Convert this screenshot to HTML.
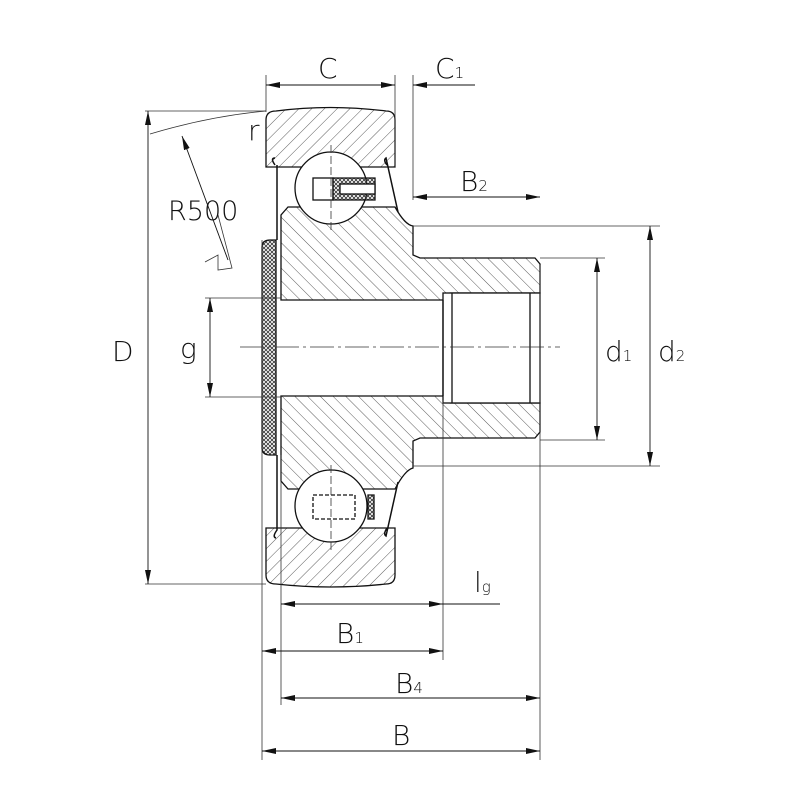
<!DOCTYPE html>
<html><head><style>body{margin:0;background:#fff}svg{display:block}text{font-family:"DejaVu Sans","Liberation Sans",sans-serif;fill:#111;font-weight:300}</style></head>
<body>
<svg width="800" height="800" viewBox="0 0 800 800" xmlns="http://www.w3.org/2000/svg">
<defs>
<pattern id="h1" width="9" height="9" patternUnits="userSpaceOnUse" patternTransform="rotate(45)"><line x1="0" y1="0" x2="0" y2="9" stroke="#333" stroke-width="0.8"/></pattern>
<pattern id="h2" width="9" height="9" patternUnits="userSpaceOnUse" patternTransform="rotate(-45)"><line x1="0" y1="0" x2="0" y2="9" stroke="#333" stroke-width="0.8"/></pattern>
<pattern id="x" width="4" height="4" patternUnits="userSpaceOnUse"><path d="M0,0L4,4M4,0L0,4" stroke="#333" stroke-width="0.8"/></pattern>
<marker id="a" viewBox="0 0 14 6" refX="14" refY="3" markerWidth="14" markerHeight="6" orient="auto-start-reverse" markerUnits="userSpaceOnUse"><path d="M0,0L14,3L0,6Z" fill="#111"/></marker>
</defs>
<g stroke="#111" stroke-width="1.3">
<path d="M266,167V120Q266,111 276,111Q330,104 386,111Q395,111 395,120V167Z" fill="url(#h1)"/>
<path d="M266,528V575Q266,584 276,584Q330,590 386,584Q395,584 395,575V528Z" fill="url(#h1)"/>
<path d="M281,300V215L288,207H395Q405,225 413,226V255L420,258H535L540,264V293H450L443,300Z" fill="url(#h2)"/>
<path d="M281,396V481L288,489H395Q405,470 413,468V441L420,438H535L540,432V403H450L443,396Z" fill="url(#h2)"/>
<rect x="443" y="293" width="97" height="110" fill="#fff"/>
<path d="M443,300V396M452,293V403M530,293V403" fill="none"/>
<circle cx="331" cy="188" r="36" fill="#fff"/>
<circle cx="331" cy="506" r="36" fill="#fff"/>
<rect x="313" y="178" width="20" height="22" fill="#fff"/>
<path d="M333,178H375V200H333Z" fill="url(#x)"/><rect x="340" y="184" width="35" height="10" fill="#fff"/>
<rect x="313" y="495" width="42" height="24" fill="none" stroke-dasharray="4,2"/>
<path d="M368,495H374V519H368Z" fill="url(#x)"/>
<path d="M262,247Q262,240 270,240H276V455H270Q262,455 262,448Z" fill="url(#x)"/>
<path d="M275,165Q270,158 275,158M277,165V240M277,455V530Q272,537 276,538" fill="none" stroke-width="1.5"/>
<path d="M387,165Q383,160 386,158L398,212M398,482L386,536Q383,534 387,528" fill="none" stroke-width="1.5"/>
</g>
<g stroke="#333" stroke-width="0.8" fill="none">
<path d="M262,240V760M266,75V112M395,75V167M413,75V200M281,455V705M443,400V660M540,265V760"/>
<path d="M145,111H266M145,584H266M205,298H281M205,397H281M413,226H660M540,258H605M540,440H605M413,466H660"/>
<path d="M240,347H560" stroke-dasharray="24,4,3,4"/>
<path d="M331,145V230M331,465V550" stroke-dasharray="8,3"/>
<path d="M150,134Q210,116 266,111"/>
<path d="M205,262L218,255L218,270L232,268L218,215"/>
</g>
<g stroke="#111" stroke-width="0.9" fill="none">
<line x1="266" y1="85" x2="395" y2="85" marker-start="url(#a)" marker-end="url(#a)"/>
<line x1="428" y1="85" x2="413" y2="85" marker-end="url(#a)"/><line x1="413" y1="85" x2="475" y2="85"/>
<line x1="413" y1="197" x2="540" y2="197" marker-start="url(#a)" marker-end="url(#a)"/>
<line x1="148" y1="111" x2="148" y2="584" marker-start="url(#a)" marker-end="url(#a)"/>
<line x1="210" y1="298" x2="210" y2="397" marker-start="url(#a)" marker-end="url(#a)"/>
<line x1="597" y1="258" x2="597" y2="440" marker-start="url(#a)" marker-end="url(#a)"/>
<line x1="650" y1="226" x2="650" y2="466" marker-start="url(#a)" marker-end="url(#a)"/>
<line x1="281" y1="604" x2="443" y2="604" marker-start="url(#a)" marker-end="url(#a)"/><line x1="443" y1="604" x2="500" y2="604"/>
<line x1="262" y1="651" x2="443" y2="651" marker-start="url(#a)" marker-end="url(#a)"/>
<line x1="281" y1="698" x2="540" y2="698" marker-start="url(#a)" marker-end="url(#a)"/>
<line x1="262" y1="751" x2="540" y2="751" marker-start="url(#a)" marker-end="url(#a)"/>
<line x1="182" y1="136" x2="228" y2="260" marker-start="url(#a)"/>
</g>
<g font-size="28">
<text x="318" y="78">C</text>
<text x="435" y="78">C<tspan font-size="15">1</tspan></text>
<text x="248" y="140">r</text>
<text x="168" y="220" font-size="27">R500</text>
<text x="460" y="191">B<tspan font-size="15">2</tspan></text>
<text x="112" y="361">D</text>
<text x="180" y="358">g</text>
<text x="605" y="361">d<tspan font-size="15">1</tspan></text>
<text x="658" y="361">d<tspan font-size="15">2</tspan></text>
<text x="474" y="592">l<tspan font-size="15">g</tspan></text>
<text x="336" y="643">B<tspan font-size="15">1</tspan></text>
<text x="395" y="693">B<tspan font-size="15">4</tspan></text>
<text x="392" y="745">B</text>
</g>
</svg>
</body></html>
